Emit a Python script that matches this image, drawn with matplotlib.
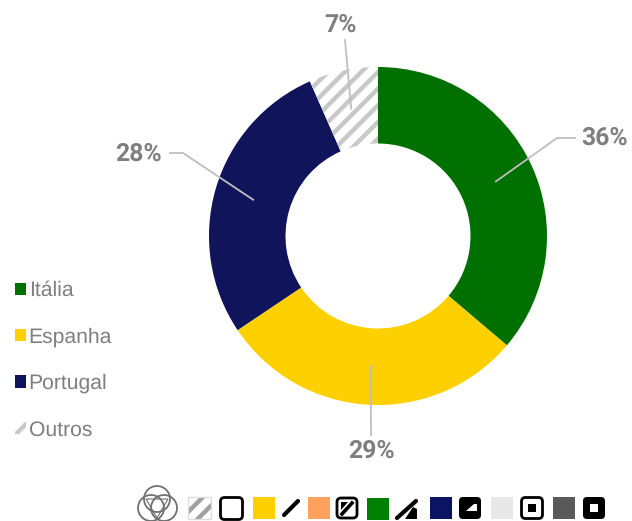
import matplotlib
matplotlib.use("Agg")
import matplotlib.pyplot as plt
from matplotlib.patches import Rectangle, FancyBboxPatch, Circle, Polygon
import numpy as np

categories = ["Itália", "Espanha", "Portugal", "Outros"]
values = [36.2, 29.4, 27.8, 6.6]
labels = ["36%", "29%", "28%", "7%"]
colors = ["#007000", "#FFD000", "#10145A", "white"]

plt.rcParams["font.family"] = ["Liberation Sans", "DejaVu Sans"]
plt.rcParams["hatch.linewidth"] = 3.2
plt.rcParams["text.hinting"] = "no_hinting"
GRAY = "#7F7F7F"
LEADER = "#BFBFBF"

fig = plt.figure(figsize=(6.32, 5.21), dpi=100)
ax = fig.add_axes([0, 0, 1, 1])
ax.set_xlim(0, 632)
ax.set_ylim(521, 0)
ax.axis("off")

cx, cy, R, r = 378, 236, 169, 92.5
# y axis is inverted, so a counter-clockwise pie in data space runs clockwise on screen
wedges, _ = ax.pie(values, colors=colors, startangle=-90, counterclock=True,
                   center=(cx, cy), radius=R, frame=False,
                   wedgeprops=dict(width=R - r, linewidth=0))
ax.set_xlim(0, 632)
ax.set_ylim(521, 0)
ax.set_aspect("auto")
wedges[3].set_hatch("//")
wedges[3].set_edgecolor("#C8C8C8")
wedges[3].set_linewidth(0)

# leader lines: start in the middle of each ring segment
layout = [((557, 138), (575, 138), (605, 138)),
          ((371, 435), (371, 435), (371, 451)),
          ((183, 153), (170, 153), (138, 154)),
          ((345, 40), (345, 40), (341, 25))]
cum = np.cumsum([0] + values)
for i, (lab, (elbow, end, tp)) in enumerate(zip(labels, layout)):
    a = np.deg2rad((cum[i] + cum[i + 1]) / 2 / sum(values) * 360)
    sx, sy = cx + 130 * np.sin(a), cy - 130 * np.cos(a)
    ax.plot([sx, elbow[0], end[0]], [sy, elbow[1], end[1]], color=LEADER, lw=1.3,
            solid_joinstyle="miter", zorder=5)
    ax.text(tp[0], tp[1], lab, color=GRAY, fontsize=17.8, fontweight="bold",
            family="Roboto", ha="center", va="center", zorder=6)

ax.legend(wedges, categories, loc="upper left", bbox_to_anchor=(15 / 632, 1 - 281 / 521),
          frameon=False, prop=dict(family="Liberation Sans", size=15.2), labelcolor=GRAY,
          handlelength=0.5, handleheight=0.5, handletextpad=0.15, labelspacing=1.27,
          borderpad=0, borderaxespad=0)

# bottom strip: swatches and icons
def rbox(x, y, w, h, fc, ec="none", lw=0, rad=4):
    ax.add_patch(FancyBboxPatch((x + rad, y + rad), w - 2 * rad, h - 2 * rad,
                                boxstyle=f"round,pad={rad}", fc=fc, ec=ec, lw=lw))

ax.add_patch(Rectangle((188, 497), 23, 22, fc="white", ec="#A0A0A0", lw=0, hatch="//"))
ax.add_patch(Rectangle((188, 497), 23, 22, fc="none", ec="#DDDDDD", lw=1))
rbox(220.5, 497.5, 22, 22, "white", "black", 2)
for x, c, y in [(253, "#FFD000", 497), (308, "#FFA05C", 497), (367, "#008000", 498),
                (430, "#0B1464", 497), (491, "#E8E8E8", 497), (553, "#595959", 497)]:
    ax.add_patch(Rectangle((x, y), 22, 22, fc=c, lw=0))
ax.plot([284, 298], [515, 501], color="black", lw=3, solid_capstyle="round")
rbox(337, 498, 20, 20, "white", "black", 2)
ax.plot([342, 352], [514, 503], color="black", lw=2.6)
ax.add_patch(Polygon([(341, 502), (348, 502), (341, 510)], fc="black", lw=0))
ax.plot([397, 416], [518, 501], color="black", lw=3, solid_capstyle="round")
ax.add_patch(Polygon([(405, 519), (417, 519), (417, 509), (413, 507)], fc="black", lw=0))
rbox(459, 497, 22, 22, "black")
ax.add_patch(Polygon([(466, 511), (474, 504), (477, 504), (477, 511)], fc="white", lw=0))
rbox(521.5, 497.5, 21, 21, "white", "black", 2)
ax.add_patch(Rectangle((528, 504), 8, 8, fc="black", lw=0))
rbox(583, 497, 22, 22, "black")
ax.add_patch(Rectangle((590, 504), 8, 8, fc="white", lw=0))

# round emblem
for px, py, rad in [(157, 499, 13), (151, 508, 13), (164, 508, 13)]:
    ax.add_patch(Circle((px, py), rad, fc="none", ec="#707070", lw=1.3))
ax.add_patch(Polygon([(146, 499), (168, 499), (157, 518)], fc="none", ec="#707070", lw=0.8))

fig.savefig("out.png", dpi=100)
